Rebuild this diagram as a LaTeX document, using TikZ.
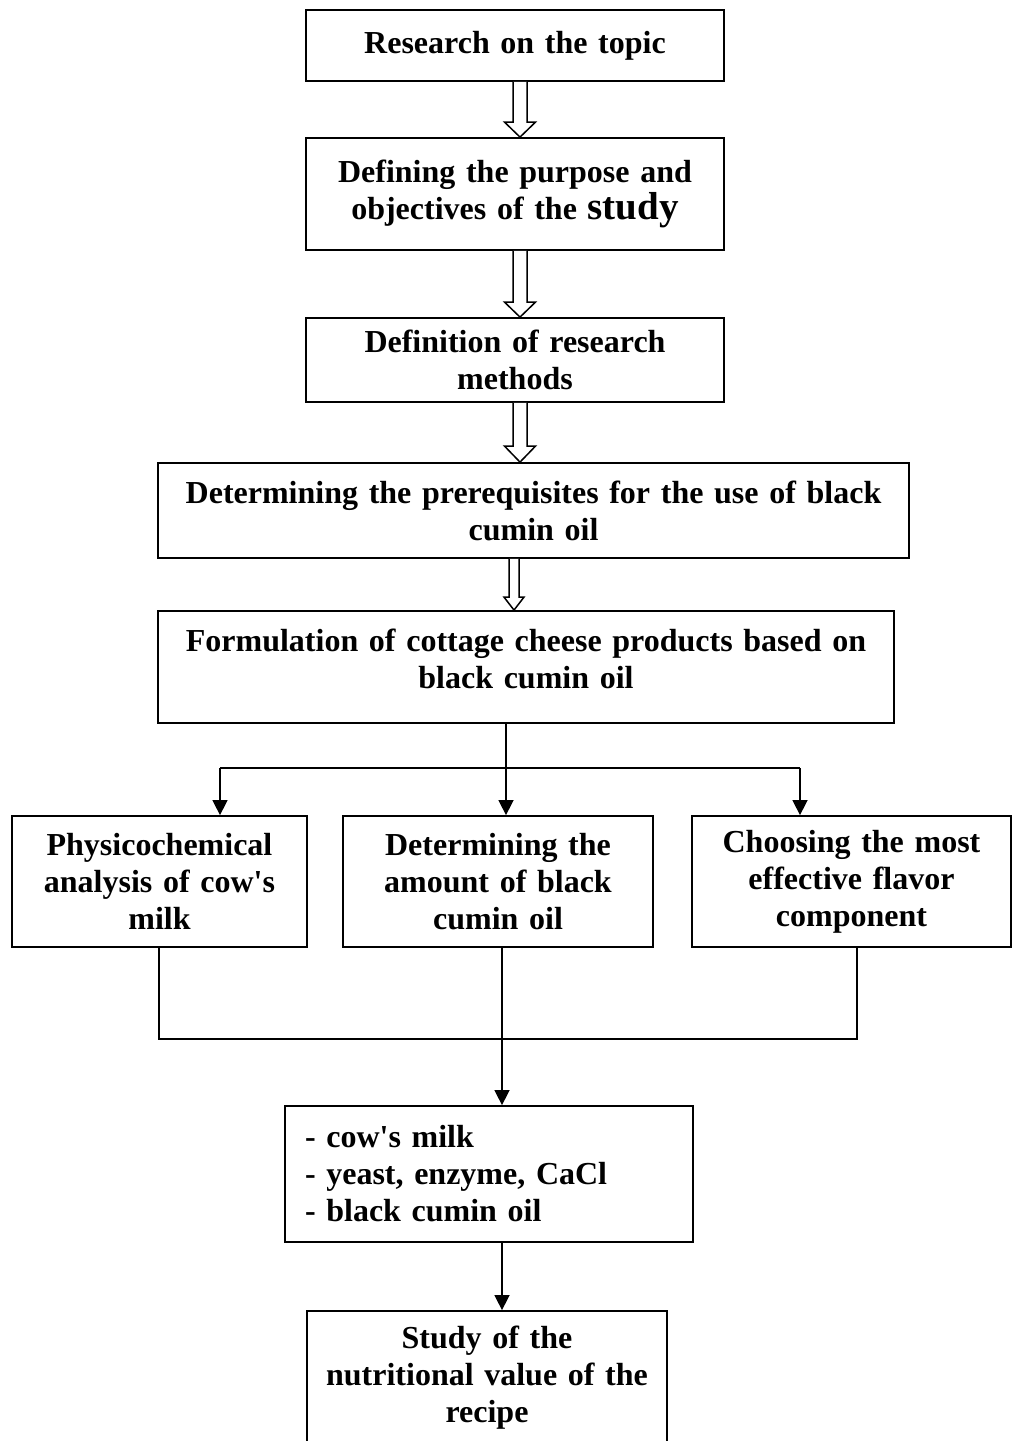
\documentclass[tikz,border=0pt]{standalone}
\usepackage{fontspec}
\setmainfont{Liberation Serif}
\usetikzlibrary{positioning, arrows.meta, calc}

\begin{document}
\begin{tikzpicture}[
    x=1pt, y=-1pt,
    box/.style={draw, line width=1.8pt, inner xsep=10pt, inner ysep=0pt, align=center,
        font=\bfseries\fontsize{32}{37}\selectfont},
    conn/.style={line width=1.5pt},
    arrow/.style={conn, -{Triangle[width=15pt, length=15pt]}},
    hollow/.style={line width=1.5pt, fill=white, line join=miter},
]
\useasboundingbox (0,0) rectangle (1012,1441);

% ===== main chain =====
\node[box, text width=398pt, minimum height=71pt] (topic) at (515,45.5) {Research on the topic};
\node[box, text width=398pt, minimum height=112pt] (purpose) at (515,194)
    {Defining the purpose and\\objectives of the {\fontsize{39}{37}\selectfont study}};
\node[box, text width=398pt, minimum height=84pt] (methods) at (515,360) {Definition of research\\methods};
\node[box, text width=731pt, minimum height=95pt] (prereq) at (533.5,510.5)
    {Determining the prerequisites for the use of black\\cumin oil};
\node[box, text width=716pt, minimum height=112pt, text depth=53pt] (formula) at (526,667)
    {Formulation of cottage cheese products based on\\black cumin oil};

% ===== hollow arrows =====
\foreach \ta/\tb/\ax/\sw/\hw/\hl in {topic/purpose/520/7/15.5/15, purpose/methods/520/7/15.5/15,
        methods/prereq/520/7/15.5/16, prereq/formula/514/5/10/13} {
    \coordinate (hx) at (\ax,0);
    \draw[hollow] ($(hx |- \ta.south)+(-\sw,0)$) -- ($(hx |- \tb.north)+(-\sw,-\hl)$)
        -- ($(hx |- \tb.north)+(-\hw,-\hl)$) -- (hx |- \tb.north)
        -- ($(hx |- \tb.north)+(\hw,-\hl)$) -- ($(hx |- \tb.north)+(\sw,-\hl)$)
        -- ($(hx |- \ta.south)+(\sw,0)$);
}

% ===== three branches =====
\node[box, text width=275pt, minimum height=131pt] (physico) at (159.5,881.5)
    {Physicochemical\\analysis of cow\textquotesingle s\\milk};
\node[box, text width=290pt, minimum height=131pt] (amount) at (498,881.5)
    {Determining the\\amount of black\\cumin oil};
\node[box, text width=299pt, minimum height=131pt] (flavor) at (851.5,881.5)
    {Choosing the most\\effective flavor\\component};

\coordinate (split) at (506,768);
\coordinate (sl) at (220,768);
\coordinate (sr) at (800,768);
\draw[conn] (split |- formula.south) -- (split);
\draw[conn] (sl) -- (sr);
\draw[arrow] (sl) -- (sl |- physico.north);
\draw[arrow] (split) -- (split |- amount.north);
\draw[arrow] (sr) -- (sr |- flavor.north);

% ===== ingredients and result =====
\node[box, align=left, inner xsep=20pt, text width=368pt, minimum height=136pt] (ingred) at (489,1174)
    {- cow\textquotesingle s milk\\- yeast, enzyme, CaCl\\- black cumin oil};
\node[box, text width=340pt, minimum height=134pt] (nutri) at (487,1378)
    {Study of the\\nutritional value of the\\recipe};

\coordinate (merge) at (502,1039);
\coordinate (ml) at (159,1039);
\coordinate (mr) at (857,1039);
\draw[conn] (ml |- physico.south) -- (ml) -- (mr) -- (mr |- flavor.south);
\draw[conn] (merge |- amount.south) -- (merge);
\draw[arrow] (merge) -- (merge |- ingred.north);
\draw[arrow] (merge |- ingred.south) -- (merge |- nutri.north);

\end{tikzpicture}
\end{document}
